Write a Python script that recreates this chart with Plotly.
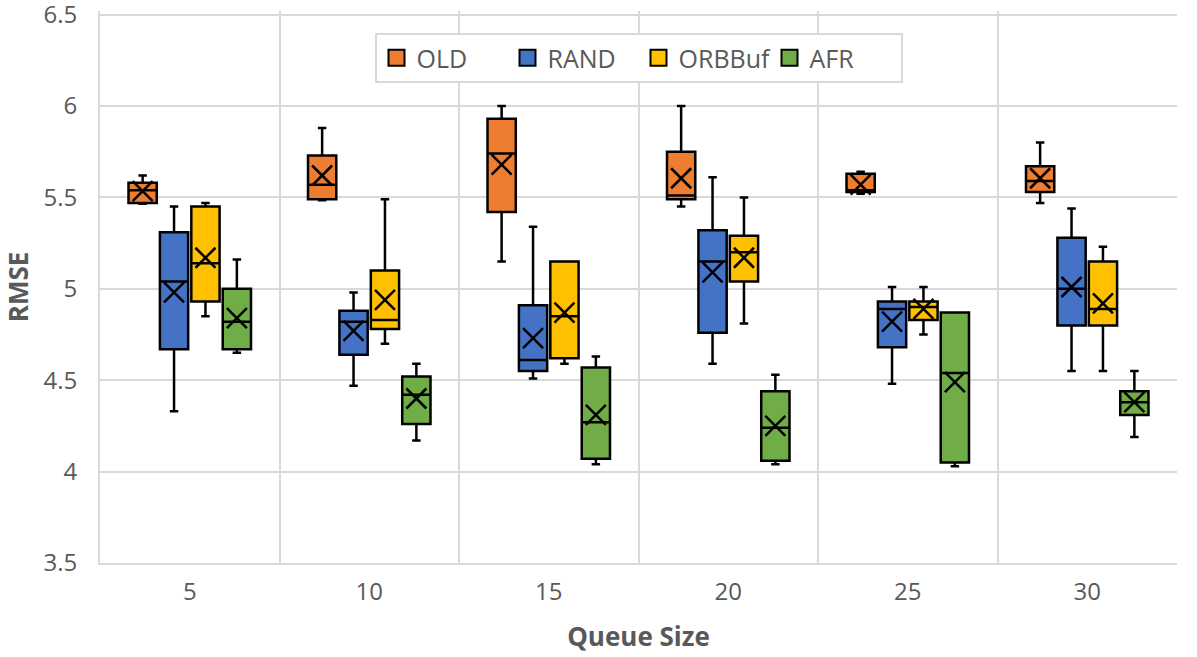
import plotly.graph_objs as go

categories = ["5", "10", "15", "20", "25", "30"]
series_names = ["OLD", "RAND", "ORBBuf", "AFR"]
series_colors = ["#ED7D31", "#4472C4", "#FFC000", "#70AD47"]
y_ticks = [3.5, 4, 4.5, 5, 5.5, 6, 6.5]
y_tick_labels = ["3.5", "4", "4.5", "5", "5.5", "6", "6.5"]

old_upper = [5.62, 5.88, 6.00, 6.00, 5.64, 5.80]
old_q3 = [5.58, 5.73, 5.93, 5.75, 5.63, 5.67]
old_median = [5.54, 5.57, 5.74, 5.51, 5.54, 5.59]
old_q1 = [5.47, 5.49, 5.42, 5.49, 5.53, 5.53]
old_lower = [5.465, 5.485, 5.15, 5.45, 5.52, 5.47]
old_mean = [5.535, 5.62, 5.68, 5.605, 5.57, 5.605]

rand_upper = [5.45, 4.98, 5.34, 5.61, 5.01, 5.44]
rand_q3 = [5.31, 4.88, 4.91, 5.32, 4.93, 5.28]
rand_median = [5.04, 4.82, 4.61, 5.15, 4.89, 5.00]
rand_q1 = [4.67, 4.64, 4.55, 4.76, 4.68, 4.80]
rand_lower = [4.33, 4.47, 4.51, 4.59, 4.48, 4.55]
rand_mean = [4.98, 4.77, 4.73, 5.09, 4.82, 5.01]

orbbuf_upper = [5.47, 5.49, 5.15, 5.50, 5.01, 5.23]
orbbuf_q3 = [5.45, 5.10, 5.15, 5.29, 4.93, 5.15]
orbbuf_median = [5.14, 4.83, 4.85, 5.20, 4.90, 4.89]
orbbuf_q1 = [4.93, 4.78, 4.62, 5.04, 4.83, 4.80]
orbbuf_lower = [4.85, 4.70, 4.59, 4.81, 4.75, 4.55]
orbbuf_mean = [5.17, 4.94, 4.87, 5.17, 4.89, 4.92]

afr_upper = [5.16, 4.59, 4.63, 4.53, 4.87, 4.55]
afr_q3 = [5.00, 4.52, 4.57, 4.44, 4.87, 4.44]
afr_median = [4.82, 4.42, 4.27, 4.24, 4.54, 4.38]
afr_q1 = [4.67, 4.26, 4.07, 4.06, 4.05, 4.31]
afr_lower = [4.65, 4.17, 4.04, 4.04, 4.03, 4.19]
afr_mean = [4.84, 4.40, 4.31, 4.25, 4.49, 4.38]

stats = [
    (old_lower, old_q1, old_median, old_q3, old_upper, old_mean),
    (rand_lower, rand_q1, rand_median, rand_q3, rand_upper, rand_mean),
    (orbbuf_lower, orbbuf_q1, orbbuf_median, orbbuf_q3, orbbuf_upper, orbbuf_mean),
    (afr_lower, afr_q1, afr_median, afr_q3, afr_upper, afr_mean),
]

GRID = "#d9d9d9"
TEXT = "#595959"
FONT = "Open Sans, sans-serif"
GAP = 0.3

fig = go.Figure()

for name, color, (lo, q1, med, q3, hi, mean) in zip(series_names, series_colors, stats):
    fig.add_trace(
        go.Box(
            name=name,
            x=categories,
            lowerfence=lo,
            q1=q1,
            median=med,
            q3=q3,
            upperfence=hi,
            fillcolor=color,
            line=dict(color="#000000", width=2.5),
            whiskerwidth=0.3,
            offsetgroup=name,
            boxpoints=False,
            showlegend=False,
        )
    )
    # Excel marks the mean with an X
    fig.add_trace(
        go.Scatter(
            x=categories,
            y=mean,
            mode="markers",
            offsetgroup=name,
            marker=dict(
                symbol="x-thin",
                size=20,
                line=dict(color="#000000", width=2.5),
            ),
            showlegend=False,
            hoverinfo="skip",
        )
    )

# legend entries drawn as bigger squares than the box icon
for name, color in zip(series_names, series_colors):
    fig.add_trace(
        go.Scatter(
            x=[None],
            y=[None],
            mode="markers",
            name=name,
            marker=dict(
                symbol="square",
                size=16,
                color=color,
                line=dict(color="#000000", width=2),
            ),
        )
    )

fig.update_layout(
    width=1197,
    height=657,
    paper_bgcolor="#ffffff",
    plot_bgcolor="#ffffff",
    boxmode="group",
    boxgap=GAP,
    boxgroupgap=0.1,
    scattermode="group",
    scattergap=GAP,
    margin=dict(t=11, r=20, b=94, l=100, autoexpand=False),
    font=dict(family=FONT, color=TEXT, size=24),
    legend=dict(
        orientation="h",
        x=0.5,
        xanchor="center",
        y=0.96,
        yanchor="top",
        bgcolor="#ffffff",
        bordercolor=GRID,
        borderwidth=2,
        font=dict(size=25, color=TEXT),
        itemwidth=30,
        itemsizing="trace",
        entrywidth=86,
        entrywidthmode="pixels",
    ),
)

fig.update_xaxes(
    type="category",
    tickson="boundaries",
    showgrid=True,
    gridcolor=GRID,
    gridwidth=2,
    showline=True,
    linecolor=GRID,
    linewidth=2,
    ticks="",
    automargin=False,
    ticklabelstandoff=6,
    tickfont=dict(size=24),
    title=dict(text="<b>Queue Size</b>", standoff=22, font=dict(size=26, color=TEXT)),
)

# a little headroom above 6.5 so its grid line is kept
fig.update_yaxes(
    range=[3.5, 6.52],
    tickmode="array",
    tickvals=y_ticks,
    ticktext=y_tick_labels,
    ticklabeloverflow="allow",
    showgrid=True,
    gridcolor=GRID,
    gridwidth=2,
    showline=True,
    linecolor=GRID,
    linewidth=2,
    zeroline=False,
    ticks="",
    automargin=False,
    ticklabelstandoff=16,
    tickfont=dict(size=24),
    title=dict(text="<b>RMSE</b>", standoff=12, font=dict(size=26, color=TEXT)),
)

# drop the default 8px page margin so the figure fills the window exactly
fig.write_html(
    "out.html",
    config={"displayModeBar": False},
    post_script="document.body.style.margin='0px';document.body.style.overflow='hidden';",
)
